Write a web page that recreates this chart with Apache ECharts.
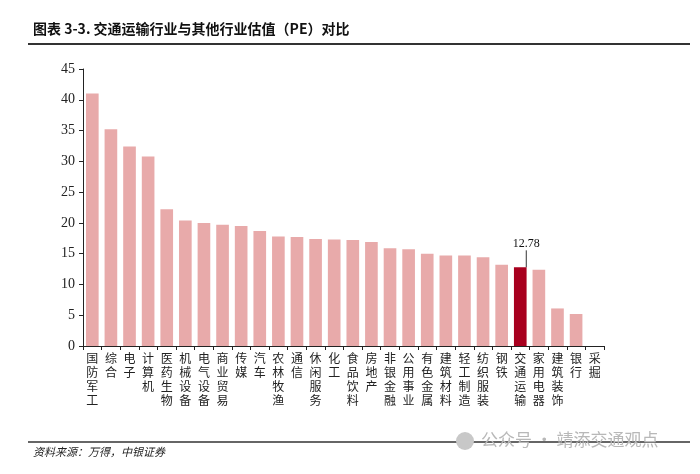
<!DOCTYPE html>
<html>
<head>
<meta charset="utf-8">
<script src="https://cdn.jsdelivr.net/npm/echarts@6/dist/echarts.min.js"></script>
<style>
  html, body { margin: 0; padding: 0; background: #fff; }
  #main { width: 700px; height: 474px; }
</style>
</head>
<body>
<div id="main"></div>
<script>
var categories = ['国防军工', '综合', '电子', '计算机', '医药生物', '机械设备', '电气设备', '商业贸易', '传媒', '汽车',
  '农林牧渔', '通信', '休闲服务', '化工', '食品饮料', '房地产', '非银金融', '公用事业', '有色金属', '建筑材料',
  '轻工制造', '纺织服装', '钢铁', '交通运输', '家用电器', '建筑装饰', '银行', '采掘'];
var peValues = [41.0, 35.2, 32.4, 30.8, 22.2, 20.4, 20.0, 19.7, 19.5, 18.7,
  17.8, 17.7, 17.4, 17.3, 17.2, 16.9, 15.9, 15.7, 15.0, 14.7,
  14.7, 14.4, 13.2, 12.78, 12.4, 6.1, 5.2, null];
var highlight = '交通运输';
var yTicks = [0, 45, 5];

var chartDom = document.getElementById('main');
var myChart = echarts.init(chartDom);

var hlIdx = categories.indexOf(highlight);
var barData = peValues.map(function (v, i) {
  if (i === hlIdx) {
    return {
      value: v,
      itemStyle: { color: '#A8001E' },
      label: {
        show: true,
        position: 'top',
        formatter: function (p) { return p.value.toFixed(2); },
        color: '#111',
        fontFamily: 'Liberation Serif',
        fontSize: 12
      }
    };
  }
  return v;
});

var option = {
  animation: false,
  grid: { left: 83, right: 96, top: 69, bottom: 128 },
  xAxis: {
    type: 'category',
    data: categories,
    axisLine: { lineStyle: { color: '#222', width: 1 } },
    axisTick: { show: true, length: 4, lineStyle: { color: '#222' } },
    axisLabel: {
      interval: 0,
      margin: 5,
      color: '#222',
      fontSize: 12,
      lineHeight: 14,
      fontFamily: 'Noto Sans CJK SC',
      formatter: function (v) { return v.split('').join('\n'); }
    }
  },
  yAxis: {
    type: 'value',
    min: yTicks[0],
    max: yTicks[1],
    interval: yTicks[2],
    splitLine: { show: false },
    axisLine: { show: true, lineStyle: { color: '#222', width: 1 } },
    axisTick: { show: true, length: 4, lineStyle: { color: '#222' } },
    axisLabel: { color: '#222', fontSize: 14, fontFamily: 'Liberation Serif', margin: 8 }
  },
  series: [{
    type: 'bar',
    barWidth: '68%',
    itemStyle: { color: '#E8AAAA' },
    label: { show: false },
    labelLayout: function (p) {
      if (p.dataIndex !== hlIdx) return {};
      return { dx: 6, dy: -12 };
    },
    labelLine: { show: true, lineStyle: { color: '#333', width: 1 } },
    data: barData
  }],
  graphic: [
    {
      type: 'text', left: 33, top: 22,
      style: { text: '图表 3-3. 交通运输行业与其他行业估值（PE）对比', font: 'bold 14px "Noto Sans CJK SC"', fill: '#111' }
    },
    {
      type: 'line', shape: { x1: 28, y1: 44, x2: 690, y2: 44 },
      style: { stroke: '#333', lineWidth: 2 }
    },
    {
      type: 'line', shape: { x1: 28, y1: 442, x2: 690, y2: 442 },
      style: { stroke: '#333', lineWidth: 1.5 }
    },
    {
      type: 'text', left: 33, top: 446,
      style: { text: '资料来源：万得，中银证券', font: 'italic 11px "Noto Sans CJK SC"', fill: '#222' }
    },
    {
      type: 'circle', shape: { cx: 465, cy: 441, r: 9 },
      style: { fill: '#c8c8c8' }
    },
    {
      type: 'text', left: 481, top: 431,
      style: { text: '公众号 · 靖添交通观点', font: '17px "Noto Sans CJK SC"', fill: '#b8b8b8' }
    }
  ]
};

option && myChart.setOption(option);
</script>
</body>
</html>
